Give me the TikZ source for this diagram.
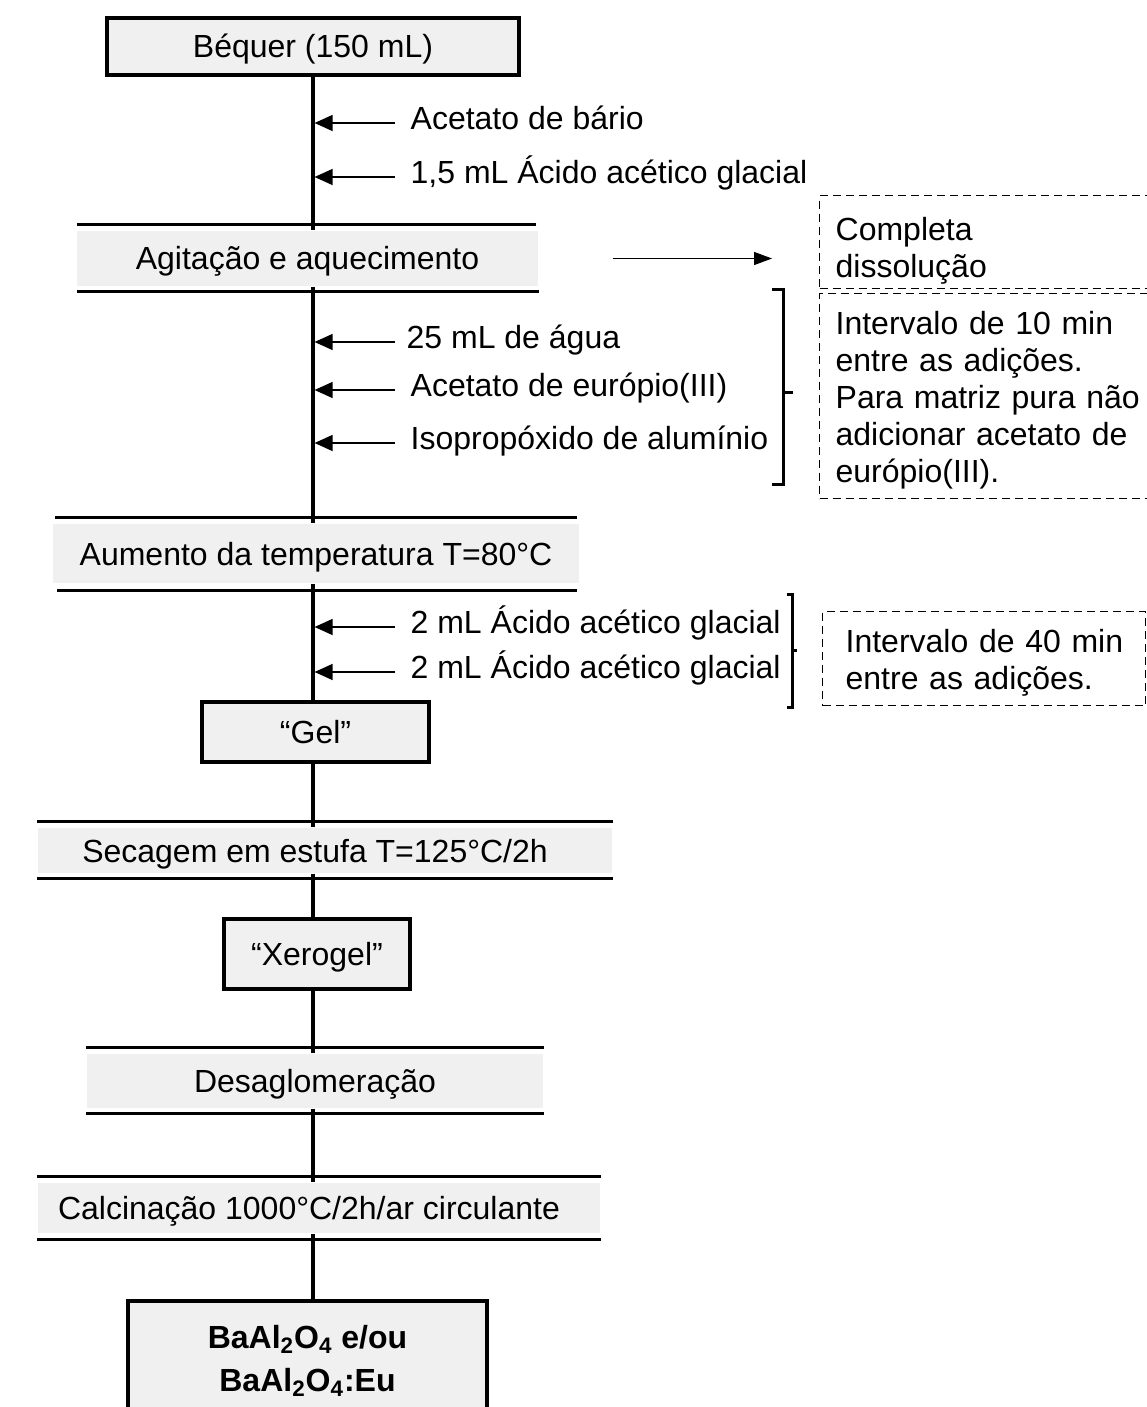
\documentclass[tikz,border=0pt]{standalone}
\usepackage{fontspec}
\setmainfont{Liberation Sans}
\usetikzlibrary{arrows.meta,calc}

\definecolor{boxgrey}{RGB}{240,240,240}

\tikzset{every picture/.style={line width=0.65pt},
	stepbox/.style={draw,fill=boxgrey,line width=1.75pt,inner sep=0pt,text height=11.5pt,text depth=0pt},
	band/.style={fill=boxgrey,inner sep=0pt,text height=11.5pt,text depth=0pt},
	bar/.style={line width=1.75pt},
	spine/.style={line width=1.75pt},
	feed/.style={-{Triangle[length=9pt,width=8pt]},line width=0.65pt,shorten >=0.8pt},
	addtext/.style={anchor=west,inner xsep=7.5pt,inner ysep=0pt,text height=11.5pt,text depth=5pt},
	brace/.style={line width=1.5pt},
	noteframe/.style={draw,dash pattern=on 4pt off 2.5pt,line width=0.65pt,anchor=north west,inner sep=0pt},
	notetext/.style={anchor=north west,align=left,inner sep=0pt,font=\fontsize{16pt}{18.5pt}\selectfont}
}

\begin{document}
\begin{tikzpicture}[x=0.5pt,y=0.5pt,yscale=-1,xscale=1,font=\fontsize{16pt}{20.5pt}\selectfont]
	\useasboundingbox (0,0) rectangle (1146,1407);
	%Boxes and bands
	\node[stepbox,minimum width=206pt,minimum height=28.5pt] (beq) at (313,46.5) {Béquer (150 mL)};
	\node[band,minimum width=230.5pt,minimum height=27.5pt] (agi) at (307.5,258.5) {Agitação e aquecimento};
	\node[band,minimum width=263pt,minimum height=29.5pt] (aum) at (316,553.5) {Aumento da temperatura T=80°C};
	\node[stepbox,minimum width=113.5pt,minimum height=30pt] (gel) at (315.5,732) {“Gel”};
	\node[band,minimum width=287pt,minimum height=22.5pt] (sec) at (325,850.5) {\hspace*{-5pt}Secagem em estufa T=125°C/2h\hspace*{5pt}};
	\node[stepbox,minimum width=93pt,minimum height=35pt] (xero) at (317,954) {“Xerogel”};
	\node[band,minimum width=228pt,minimum height=27pt] (desa) at (315,1081) {Desaglomeração};
	\node[band,minimum width=281pt,minimum height=25pt] (calc) at (319,1208) {\hspace*{-5pt}Calcinação 1000°C/2h/ar circulante\hspace*{5pt}};
	\node[draw,fill=boxgrey,line width=1.75pt,inner sep=0pt,align=center,minimum width=179.5pt,minimum height=59.5pt,font=\fontsize{16pt}{21.5pt}\selectfont\bfseries] (final) at (307.5,1360.5) {BaAl\textsubscript{2}O\textsubscript{4} e/ou\\BaAl\textsubscript{2}O\textsubscript{4}:Eu};
	
	%Bars above and below the bands
	\draw[bar] ($(agi.north west)+(1,-6)$) -- ($(agi.north east)+(-3,-6)$);
	\draw[bar] ($(agi.south west)+(1,5)$) -- ($(agi.south east)+(0,5)$);
	\draw[bar] ($(aum.north west)+(3,-6)$) -- ($(aum.north east)+(-3,-6)$);
	\draw[bar] ($(aum.south west)+(5,7)$) -- ($(aum.south east)+(-3,7)$);
	\draw[bar] ($(sec.north west)+(0,-6)$) -- ($(sec.north east)+(0,-6)$);
	\draw[bar] ($(sec.south west)+(0,5)$) -- ($(sec.south east)+(0,5)$);
	\draw[bar] ($(desa.north west)+(0,-6)$) -- ($(desa.north east)+(0,-6)$);
	\draw[bar] ($(desa.south west)+(0,5)$) -- ($(desa.south east)+(0,5)$);
	\draw[bar] ($(calc.north west)+(0,-6)$) -- ($(calc.north east)+(0,-6)$);
	\draw[bar] ($(calc.south west)+(0,6)$) -- ($(calc.south east)+(0,6)$);
	
	%Straight Lines (main line)
	\draw[spine] (beq.south) -- (beq.south |- agi.north);
	\draw[spine] (beq.south |- agi.south) -- (beq.south |- aum.north);
	\draw[spine] (beq.south |- aum.south) -- (beq.south |- gel.north);
	\draw[spine] (beq.south |- gel.south) -- (beq.south |- sec.north);
	\draw[spine] (beq.south |- sec.south) -- (beq.south |- xero.north);
	\draw[spine] (beq.south |- xero.south) -- (beq.south |- desa.north);
	\draw[spine] (beq.south |- desa.south) -- (beq.south |- calc.north);
	\draw[spine] (beq.south |- calc.south) -- (beq.south |- final.north);
	
	% Text Node (additions)
	\node[addtext] (a1) at (395,123) {Acetato de bário};
	\node[addtext] (a2) at (395,177) {1,5 mL Ácido acético glacial};
	\node[addtext,inner xsep=5.5pt] (b1) at (395,342) {25 mL de água};
	\node[addtext] (b2) at (395,390) {Acetato de európio(III)};
	\node[addtext] (b3) at (395,443) {Isopropóxido de alumínio};
	\node[addtext] (c1) at (395,627) {2 mL Ácido acético glacial};
	\node[addtext] (c2) at (395,672) {2 mL Ácido acético glacial};
	
	%Arrows
	\draw[feed] (a1.west) -- (a1.west -| beq.south);
	\draw[feed] (a2.west) -- (a2.west -| beq.south);
	\draw[feed] (b1.west) -- (b1.west -| beq.south);
	\draw[feed] (b2.west) -- (b2.west -| beq.south);
	\draw[feed] (b3.west) -- (b3.west -| beq.south);
	\draw[feed] (c1.west) -- (c1.west -| beq.south);
	\draw[feed] (c2.west) -- (c2.west -| beq.south);
	
	% Dashed notes
	\node[noteframe,minimum width=170.5pt,minimum height=46.5pt] (comp) at (819,195) {};
	\node[notetext,text width=154.5pt] (comptext) at ($(comp.north west)+(16,21.5)$) {Completa\\dissolução};
	\node[noteframe,minimum width=170.5pt,minimum height=102.5pt] (int1) at (819,293) {};
	\node[notetext,text width=160pt] (int1text) at ($(int1.north west)+(16,17.5)$) {\makebox[150pt][s]{Intervalo de 10 min}\\entre as adições.\\Para matriz pura não\\\makebox[150pt][s]{adicionar acetato de}\\európio(III).};
	\node[noteframe,minimum width=161.5pt,minimum height=47pt] (int2) at (822,611) {};
	\node[notetext,text width=145pt] (int2text) at ($(int2.north west)+(23,17.5)$) {\makebox[138.5pt][s]{Intervalo de 40 min}\\entre as adições.};
	
	\draw[-{Triangle[length=9pt,width=6.5pt]},line width=0.65pt] ($(agi.east)+(74,0)$) -- ($(agi.east -| comp.west)+(-47,0)$);
	
	%Brackets
	\draw[brace] (772,289) -- (783,289) -- (783,484) -- (772,484);
	\draw[brace] (783,392) -- (793,392);
	\draw[brace] (787,594) -- (792,594) -- (792,707) -- (787,707);
	\draw[brace] (792,650) -- (797,650);
\end{tikzpicture}
\end{document}
